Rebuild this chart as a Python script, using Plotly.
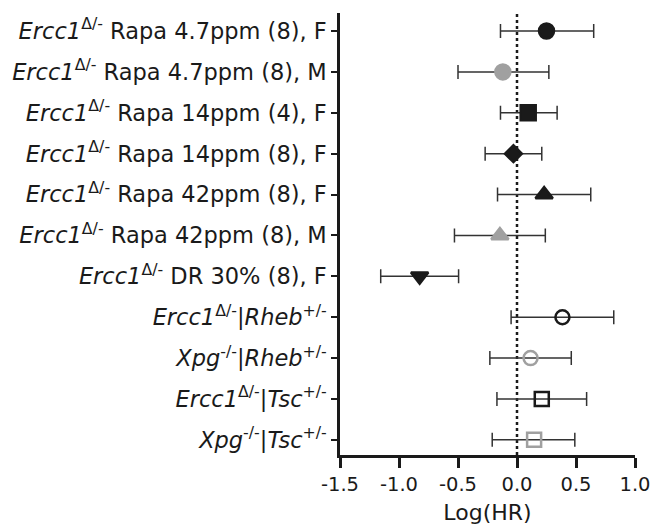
import plotly.graph_objects as go

labels = [
    "<i>Ercc1</i><sup>Δ/-</sup> Rapa 4.7ppm (8), F",
    "<i>Ercc1</i><sup>Δ/-</sup> Rapa 4.7ppm (8), M",
    "<i>Ercc1</i><sup>Δ/-</sup> Rapa 14ppm (4), F",
    "<i>Ercc1</i><sup>Δ/-</sup> Rapa 14ppm (8), F",
    "<i>Ercc1</i><sup>Δ/-</sup> Rapa 42ppm (8), F",
    "<i>Ercc1</i><sup>Δ/-</sup> Rapa 42ppm (8), M",
    "<i>Ercc1</i><sup>Δ/-</sup> DR 30% (8), F",
    "<i>Ercc1</i><sup>Δ/-</sup>|<i>Rheb</i><sup>+/-</sup>",
    "<i>Xpg</i><sup>-/-</sup>|<i>Rheb</i><sup>+/-</sup>",
    "<i>Ercc1</i><sup>Δ/-</sup>|<i>Tsc</i><sup>+/-</sup>",
    "<i>Xpg</i><sup>-/-</sup>|<i>Tsc</i><sup>+/-</sup>",
]
log_hr = [0.25, -0.12, 0.095, -0.03, 0.23, -0.145, -0.825, 0.385, 0.115, 0.21, 0.145]
ci_low = [-0.14, -0.50, -0.14, -0.27, -0.165, -0.53, -1.155, -0.05, -0.23, -0.17, -0.21]
ci_high = [0.65, 0.27, 0.34, 0.21, 0.625, 0.24, -0.495, 0.82, 0.46, 0.59, 0.49]
x_ticks = [-1.5, -1.0, -0.5, 0.0, 0.5, 1.0]
x_tick_text = ["-1.5", "-1.0", "-0.5", "0.0", "0.5", "1.0"]

symbols = ["circle", "circle", "square", "diamond", "triangle-up", "triangle-up",
           "triangle-down", "circle-open", "circle-open", "square-open", "square-open"]
colors = ["#1a1a1a", "#a0a0a0", "#1a1a1a", "#1a1a1a", "#1a1a1a", "#a0a0a0",
          "#1a1a1a", "#1a1a1a", "#a0a0a0", "#1a1a1a", "#a0a0a0"]
sizes = [15, 15, 15, 13, 15, 15, 15, 14, 14, 14, 14]

n = len(labels)
ypos = [n - 1 - i for i in range(n)]

fig = go.Figure()
for i in range(n):
    fig.add_trace(go.Scatter(
        x=[log_hr[i]], y=[ypos[i]], mode="markers",
        marker=dict(symbol=symbols[i], color=colors[i], size=sizes[i],
                    line=dict(width=2.5, color=colors[i])),
        error_x=dict(type="data", symmetric=False,
                     array=[ci_high[i] - log_hr[i]],
                     arrayminus=[log_hr[i] - ci_low[i]],
                     color="#333333", thickness=1.5, width=7),
        showlegend=False, cliponaxis=False,
    ))

fig.add_shape(type="line", x0=0, x1=0, y0=0, y1=1, xref="x", yref="paper",
              line=dict(color="#1a1a1a", width=2.5, dash="dot"), layer="below")

fam = "DejaVu Sans, sans-serif"
fig.update_layout(
    width=653, height=532,
    margin=dict(l=340, r=18, t=13, b=77),
    paper_bgcolor="white", plot_bgcolor="white",
    font=dict(family=fam, size=20, color="#1a1a1a"),
    xaxis=dict(range=[-1.5, 1.0], tickvals=x_ticks, ticktext=x_tick_text,
               showgrid=False, zeroline=False, showline=True, linecolor="#1a1a1a",
               linewidth=2.5, ticks="outside", ticklen=10, tickwidth=2.5,
               tickcolor="#1a1a1a", automargin=False,
               tickfont=dict(family=fam, size=19.5, color="#1a1a1a"),
               title=dict(text="Log(HR)", font=dict(family=fam, size=22, color="#1a1a1a"),
                          standoff=10)),
    yaxis=dict(range=[-0.37, 10.44], tickvals=ypos, ticktext=labels,
               showgrid=False, zeroline=False, showline=True, linecolor="#1a1a1a",
               linewidth=2.5, ticks="outside", ticklen=6, tickwidth=2,
               tickcolor="#1a1a1a", ticklabelstandoff=0, automargin=False,
               tickfont=dict(family=fam, size=22.5, color="#1a1a1a")),
)

# remove the default page margin so the figure sits at the window's top-left
fig.write_html("out.html", config={"displayModeBar": False},
               post_script="document.body.style.margin='0';document.body.style.overflow='hidden';")
